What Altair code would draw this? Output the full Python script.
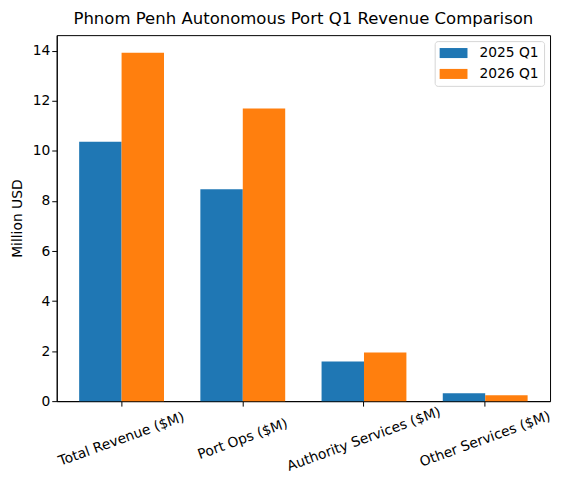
import altair as alt
import pandas as pd

categories = ['Total Revenue ($M)', 'Port Ops ($M)', 'Authority Services ($M)', 'Other Services ($M)']
q1_2025 = [10.37, 8.47, 1.58, 0.32]
q1_2026 = [13.93, 11.70, 1.94, 0.24]
periods = ['2025 Q1', '2026 Q1']

df = pd.DataFrame({
    'category': categories * 2,
    'period': [periods[0]] * 4 + [periods[1]] * 4,
    'value': q1_2025 + q1_2026,
})

font = 'DejaVu Sans'

bars = alt.Chart(df).mark_bar().encode(
    x=alt.X('category:N', sort=categories, title=None,
            scale=alt.Scale(paddingInner=0.3, paddingOuter=0.185),
            axis=alt.Axis(labelAngle=340, labelFontSize=13.9, labelColor='black',
                          tickColor='black', domainColor='black', tickSize=5,
                          labelFont=font, labelPadding=33, labelAlign='center',
                          labelBaseline='middle', grid=False)),
    xOffset=alt.XOffset('period:N', sort=periods, scale=alt.Scale(paddingInner=0, paddingOuter=0)),
    y=alt.Y('value:Q', title='Million USD',
            scale=alt.Scale(domain=[0, 14.63], nice=False),
            axis=alt.Axis(values=list(range(0, 15, 2)), labelFontSize=13.9, labelColor='black',
                          titleFontSize=13.9, titleFontWeight='normal', titleFont=font,
                          labelFont=font, tickColor='black', domainColor='black',
                          tickSize=5, grid=False, titlePadding=8)),
    color=alt.Color('period:N', sort=periods,
                    scale=alt.Scale(domain=periods, range=['#1f77b4', '#ff7f0e']),
                    legend=alt.Legend(title=None, orient='top-right',
                                      symbolType='M-2,-0.72H2V0.72H-2Z',
                                      symbolSize=196, symbolStrokeWidth=0, symbolOffset=7,
                                      labelFontSize=13.9, labelFont=font, labelOffset=19,
                                      rowPadding=7, strokeColor='#d6d6d6', padding=5,
                                      offset=6, fillColor='white', cornerRadius=3)),
)

chart = bars.properties(
    width=496,
    height=368,
    padding={'left': 2, 'top': 1, 'right': 5, 'bottom': 5},
    title=alt.Title('Phnom Penh Autonomous Port Q1 Revenue Comparison',
                    fontSize=16.6, fontWeight='normal', font=font, color='black', offset=8),
).configure_view(stroke='black', strokeWidth=1)

chart.save("out.html", embed_options={"renderer": "svg", "actions": False})
